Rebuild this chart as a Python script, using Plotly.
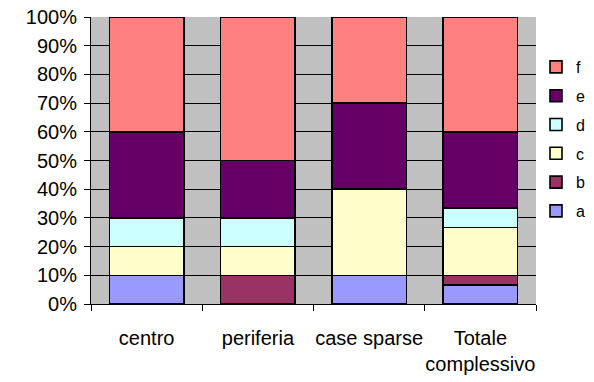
import plotly.graph_objects as go

categories = ["centro", "periferia", "case sparse", "Totale<br>complessivo"]
series_names = ["a", "b", "c", "d", "e", "f"]
a_vals = [10, 0, 10, 6.7]
b_vals = [0, 10, 0, 3.3]
c_vals = [10, 10, 30, 16.7]
d_vals = [10, 10, 0, 6.7]
e_vals = [30, 20, 30, 26.6]
f_vals = [40, 50, 30, 40]
colors = ["#9999FF", "#993366", "#FFFFCC", "#CCFFFF", "#660066", "#FF8080"]
y_ticks = [0, 10, 20, 30, 40, 50, 60, 70, 80, 90, 100]
y_tick_labels = ["0%", "10%", "20%", "30%", "40%", "50%", "60%", "70%", "80%", "90%", "100%"]

values = [a_vals, b_vals, c_vals, d_vals, e_vals, f_vals]

fig = go.Figure()
for i, (name, vals, col) in enumerate(zip(series_names, values, colors)):
    fig.add_trace(go.Bar(
        x=categories, y=vals, name=name, legendgroup=name,
        legendrank=len(series_names) - i,
        marker=dict(color=col, line=dict(color="#000000", width=1.6)),
    ))

font_family = "Liberation Sans, Arial, sans-serif"
fig.update_layout(
    barmode="stack",
    bargap=0.33,
    width=594, height=382,
    margin=dict(l=91, r=58, t=17, b=78, autoexpand=False),
    paper_bgcolor="#FFFFFF",
    plot_bgcolor="#C0C0C0",
    font=dict(family=font_family, size=20, color="#000000"),
    showlegend=True,
    legend=dict(
        x=1.0, xanchor="left", y=0.885, yanchor="top",
        traceorder="grouped", tracegroupgap=5,
        font=dict(family=font_family, size=16, color="#000000"),
        itemwidth=30, bgcolor="rgba(0,0,0,0)",
    ),
    xaxis=dict(
        showline=True, linecolor="#000000", linewidth=1,
        ticks="outside", ticklen=6, tickcolor="#000000",
        tickson="boundaries", showgrid=False, tickangle=0,
        ticklabelstandoff=16,
        tickfont=dict(size=20),
    ),
    yaxis=dict(
        range=[0, 100], tickmode="array", tickvals=y_ticks, ticktext=y_tick_labels,
        showline=True, linecolor="#000000", linewidth=1,
        ticks="outside", ticklen=6, tickcolor="#000000",
        showgrid=True, gridcolor="#000000", gridwidth=1,
        zeroline=False, ticklabelstandoff=3,
        tickfont=dict(size=20),
    ),
)

fig.write_html(
    "out.html",
    config={"displayModeBar": False},
    post_script="document.body.style.margin='0';",
)
